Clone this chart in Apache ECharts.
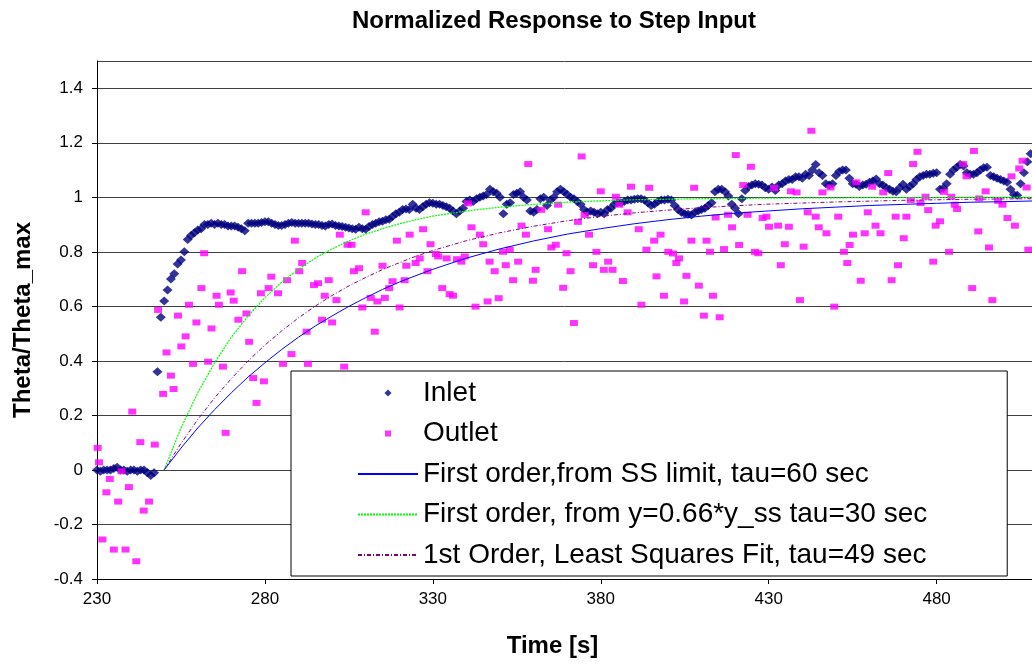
<!DOCTYPE html>
<html lang="en">
<head>
<meta charset="UTF-8">
<title>Normalized Response to Step Input</title>
<script src="https://cdn.jsdelivr.net/npm/echarts@6/dist/echarts.min.js"></script>
<style>
  html, body { margin: 0; padding: 0; background: #fff; }
  #chart { width: 1032px; height: 664px; }
</style>
</head>
<body>
<div id="chart"></div>
<script>
// Inlet: one sample per second, starting at t = 230 s
var inletStart = 230;
var inletVals = [
  0, -0.005, 0, 0, 0, 0.005, 0.01, 0, 0, -0.005,
  0, 0, -0.005, 0, 0, -0.01, -0.02, -0.01, 0.36, 0.56,
  0.62, 0.66, 0.70, 0.72, 0.755, 0.77, 0.80, 0.845, 0.86, 0.87,
  0.88, 0.885, 0.90, 0.90, 0.905, 0.90, 0.905, 0.90, 0.90, 0.895,
  0.895, 0.895, 0.89, 0.885, 0.877, 0.905, 0.905, 0.905, 0.905, 0.908,
  0.91, 0.91, 0.905, 0.90, 0.897, 0.897, 0.90, 0.905, 0.908, 0.905,
  0.905, 0.905, 0.905, 0.905, 0.902, 0.90, 0.90, 0.897, 0.895, 0.90,
  0.902, 0.897, 0.895, 0.893, 0.89, 0.887, 0.885, 0.883, 0.89, 0.885,
  0.883, 0.893, 0.90, 0.905, 0.91, 0.912, 0.918, 0.92, 0.93, 0.94,
  0.945, 0.955, 0.957, 0.955, 0.975, 0.96, 0.955, 0.965, 0.975, 0.98,
  0.978, 0.975, 0.975, 0.97, 0.965, 0.96, 0.95, 0.94, 0.95, 0.96,
  0.985, 0.99, 0.985, 0.995, 1.0, 1.005, 1.01, 1.03, 1.02, 1.015,
  1.0, 0.94, 0.975, 0.98, 1.01, 1.015, 1.02, 1.0, 0.99, 0.95,
  0.945, 0.955, 0.995, 1.0, 0.97, 0.99, 1.0, 1.02, 1.03, 1.02,
  1.01, 1.0, 0.995, 0.985, 0.975, 0.955, 0.945, 0.95, 0.945, 0.94,
  0.945, 0.94, 0.955, 0.96, 0.975, 0.98, 0.98, 0.985, 0.99, 0.99,
  0.993, 0.995, 0.995, 0.99, 0.98, 0.97, 0.975, 0.985, 0.99, 0.99,
  0.993, 0.99, 0.97, 0.955, 0.945, 0.94, 0.938, 0.935, 0.945, 0.95,
  0.955, 0.96, 0.97, 0.98, 1.02, 1.03, 1.03, 1.02, 1.005, 0.975,
  0.96, 0.94, 0.995, 1.025, 1.04, 1.045, 1.05, 1.048, 1.045, 1.035,
  1.03, 1.038, 1.025, 1.045, 1.05, 1.06, 1.065, 1.065, 1.075, 1.075,
  1.07, 1.085, 1.08, 1.10, 1.12, 1.09, 1.08, 1.05, 1.045, 1.05,
  1.08, 1.095, 1.10, 1.10, 1.07, 1.05, 1.048, 1.04, 1.045, 1.048,
  1.055, 1.06, 1.067, 1.05, 1.045, 1.035, 1.03, 1.022, 1.02, 1.035,
  1.048, 1.03, 1.04, 1.05, 1.065, 1.075, 1.08, 1.085, 1.085, 1.088,
  1.09, 1.03, 1.033, 1.05, 1.085, 1.10, 1.11, 1.12, 1.115, 1.09,
  1.085, 1.085, 1.09, 1.10, 1.108, 1.11, 1.08, 1.075, 1.07, 1.065,
  1.06, 1.055, 1.03, 1.01, 1.008, 1.05, 1.09, 1.13, 1.16, 1.18
];

// Outlet: [time, value]
var outletPts = [
  [230.2, 0.081], [230.6, 0.028], [231.6, -0.255], [232.8, -0.082], [233.8, -0.033],
  [235.0, -0.292], [236.3, -0.116], [237.3, -0.005], [238.5, -0.292], [239.5, -0.063],
  [240.5, 0.214], [241.7, -0.335], [242.9, 0.102], [243.9, -0.149], [245.5, -0.116],
  [247.2, 0.093], [248.2, 0.587], [249.7, 0.279], [250.7, 0.431], [252.0, 0.346],
  [252.8, 0.297], [254.1, 0.566], [255.1, 0.453], [256.4, 0.49], [257.4, 0.606],
  [258.6, 0.389], [259.6, 0.541], [261.1, 0.667], [261.9, 0.795], [263.1, 0.397],
  [264.1, 0.519], [265.6, 0.639], [266.3, 0.606], [267.5, 0.379], [268.3, 0.136],
  [269.8, 0.651], [270.7, 0.621], [272.1, 0.551], [273.2, 0.729], [274.5, 0.574],
  [275.3, 0.47], [276.5, 0.337], [277.5, 0.246], [278.8, 0.648], [279.7, 0.325],
  [281.1, 0.667], [281.9, 0.709], [283.9, 0.648], [285.4, 0.389], [286.6, 0.696],
  [287.9, 0.425], [288.9, 0.841], [290.2, 0.729], [291.1, 0.759], [292.4, 0.507],
  [292.8, 0.389], [294.6, 0.678], [295.8, 0.685], [297.0, 0.551], [297.8, 0.639],
  [299.0, 0.696], [300.0, 0.541], [301.3, 0.623], [302.3, 0.863], [303.6, 0.379],
  [304.6, 0.826], [305.8, 0.826], [306.5, 0.729], [308.0, 0.74], [309.0, 0.596],
  [310.0, 0.945], [311.5, 0.631], [312.7, 0.507], [313.5, 0.618], [315.0, 0.749],
  [315.7, 0.631], [317.0, 0.667], [318.0, 0.692], [319.3, 0.841], [320.1, 0.596],
  [321.6, 0.696], [322.1, 0.749], [323.1, 0.863], [324.9, 0.759], [326.1, 0.776],
  [327.1, 0.883], [328.4, 0.729], [329.3, 0.828], [330.9, 0.792], [331.6, 0.783],
  [332.8, 0.667], [334.1, 0.776], [335.0, 0.645], [336.0, 0.639], [337.2, 0.773],
  [338.5, 0.764], [339.5, 0.783], [340.5, 0.978], [341.5, 0.89], [342.7, 0.599],
  [344.0, 0.863], [345.0, 0.828], [346.3, 0.618], [346.9, 0.764], [348.4, 0.729],
  [349.6, 0.63], [350.9, 0.80], [351.7, 0.751], [352.9, 0.808], [353.9, 0.696],
  [355.4, 0.764], [356.4, 0.896], [357.7, 0.863], [358.4, 1.122], [359.8, 0.694],
  [360.6, 0.734], [362.3, 0.954], [364.3, 0.883], [365.3, 0.816], [366.6, 0.826],
  [367.3, 0.973], [368.8, 0.668], [369.8, 0.795], [371.0, 0.729], [372.0, 0.539],
  [373.2, 0.91], [374.3, 1.15], [375.2, 0.935], [376.5, 0.863], [377.7, 0.751],
  [378.7, 0.80], [380.0, 1.022], [380.9, 0.734], [382.2, 0.764], [383.5, 0.734],
  [384.5, 1.002], [385.5, 0.973], [386.6, 0.693], [388.0, 0.945], [389.0, 1.039],
  [391.3, 0.883], [392.1, 0.606], [393.6, 0.808], [394.4, 1.035], [395.9, 0.841],
  [396.6, 0.71], [397.8, 0.863], [398.8, 0.639], [400.1, 0.80], [401.5, 0.794],
  [402.5, 0.759], [403.3, 0.776], [404.8, 0.618], [405.5, 0.712], [407.0, 0.841],
  [407.8, 1.035], [409.2, 0.676], [410.7, 0.566], [411.5, 0.841], [412.5, 0.80],
  [413.4, 0.639], [414.2, 0.926], [415.4, 0.56], [416.7, 0.81], [417.9, 0.936],
  [419.1, 0.89], [420.2, 1.155], [421.2, 0.825], [422.4, 1.045], [423.7, 0.936],
  [424.7, 1.112], [425.9, 0.80], [426.9, 0.795], [428.2, 0.924], [429.3, 0.929],
  [430.1, 0.892], [431.6, 1.034], [432.8, 0.896], [433.6, 0.751], [434.8, 0.828],
  [436.0, 0.892], [436.6, 1.022], [438.3, 1.018], [439.3, 0.623], [440.4, 0.819],
  [441.6, 0.945], [442.7, 1.244], [444.0, 0.929], [444.9, 0.89], [446.0, 1.018],
  [447.2, 0.868], [448.4, 1.036], [449.5, 0.599], [450.7, 0.929], [452.4, 0.80],
  [453.4, 0.759], [454.1, 0.825], [455.1, 0.863], [456.1, 1.055], [457.4, 0.694],
  [458.6, 0.868], [459.5, 0.945], [460.8, 1.039], [461.8, 0.896], [463.3, 0.868],
  [464.1, 1.018], [465.6, 1.089], [466.6, 0.696], [467.8, 0.929], [468.5, 0.751],
  [470.2, 0.85], [471.0, 0.929], [472.3, 0.99], [473.0, 1.122], [474.3, 1.167],
  [475.2, 0.979], [476.7, 1.002], [477.5, 0.953], [479.0, 0.764], [479.7, 0.896],
  [481.0, 0.912], [482.2, 1.02], [483.7, 0.80], [484.4, 1.002], [485.4, 0.973],
  [486.1, 0.957], [487.9, 1.122], [488.9, 1.077], [490.6, 0.667], [491.1, 1.17],
  [492.4, 0.875], [492.7, 0.996], [494.6, 1.022], [495.6, 0.816], [496.6, 0.623],
  [498.3, 0.987], [499.6, 0.973], [501.1, 0.924], [502.3, 1.077], [503.3, 0.896],
  [504.6, 1.106], [505.6, 1.134], [506.8, 1.036], [507.3, 0.808]
];

// fitted first-order curves, read at these times
var fitTimes = [250, 255, 260, 265, 270, 275, 280, 285, 290, 295, 300, 305, 310, 315, 320, 325, 330,
                340, 350, 360, 370, 380, 390, 400, 410, 420, 430, 440, 450, 460, 470, 480, 490, 500, 510];
var fitSS  = [0, 0.080, 0.154, 0.221, 0.283, 0.341, 0.393, 0.442, 0.487, 0.528, 0.565, 0.600, 0.632, 0.662, 0.689, 0.713, 0.736,
              0.777, 0.811, 0.840, 0.865, 0.885, 0.903, 0.918, 0.931, 0.942, 0.950, 0.958, 0.964, 0.970, 0.974, 0.978, 0.982, 0.984, 0.987];
var fit066 = [0, 0.154, 0.283, 0.393, 0.487, 0.565, 0.632, 0.689, 0.736, 0.777, 0.811, 0.840, 0.865, 0.885, 0.903, 0.918, 0.931,
              0.950, 0.964, 0.974, 0.982, 0.987, 0.991, 0.993, 0.995, 0.996, 0.997, 0.998, 0.998, 0.999, 0.999, 0.999, 1.0, 1.0, 1.0];
var fitLSQ = [0, 0.097, 0.185, 0.264, 0.335, 0.400, 0.458, 0.510, 0.558, 0.601, 0.640, 0.675, 0.706, 0.735, 0.760, 0.784, 0.805,
              0.841, 0.870, 0.894, 0.914, 0.930, 0.943, 0.953, 0.962, 0.969, 0.975, 0.979, 0.983, 0.986, 0.989, 0.991, 0.993, 0.994, 0.995];

var names = ['Inlet', 'Outlet', 'First order,from SS limit, tau=60 sec',
             'First order, from y=0.66*y_ss tau=30 sec', '1st Order, Least Squares Fit, tau=49 sec'];

var FONT = '"Liberation Sans", Arial, sans-serif';

function pairs(xs, ys) {
  return xs.map(function (x, i) { return [x, ys[i]]; });
}

var inletData = inletVals.map(function (v, i) { return [inletStart + i, v]; });

var chart = echarts.init(document.getElementById('chart'));

// legend entries for the fit lines: line only, hide the marker in the middle
var lineOnly = { opacity: 0 };

chart.setOption({
  animation: false,
  backgroundColor: '#fff',
  textStyle: { fontFamily: FONT },
  title: {
    text: 'Normalized Response to Step Input',
    left: 554,
    top: 9,
    padding: 0,
    textAlign: 'center',
    textStyle: { fontSize: 24, fontWeight: 'bold', color: '#000', fontFamily: FONT }
  },
  grid: { left: 97, top: 61, right: 0, bottom: 85 },
  legend: {
    orient: 'vertical',
    left: 291,
    top: 371,
    padding: [8, 80, 7, 66],
    itemGap: 12.5,
    itemWidth: 60,
    itemHeight: 14,
    backgroundColor: '#fff',
    borderColor: '#000',
    borderWidth: 1,
    textStyle: { fontSize: 28, color: '#000', fontFamily: FONT },
    data: [
      { name: names[0], icon: 'path://M0,0M60,14M30,3.5L33.5,7L30,10.5L26.5,7Z' },
      { name: names[1], icon: 'path://M0,0M60,14M27,4H33V10H27Z' },
      { name: names[2], itemStyle: lineOnly },
      { name: names[3], itemStyle: lineOnly },
      { name: names[4], itemStyle: lineOnly }
    ]
  },
  xAxis: {
    type: 'value',
    min: 230,
    max: 508.4,
    interval: 50,
    name: 'Time [s]',
    nameLocation: 'middle',
    nameGap: 55,
    nameTextStyle: { fontSize: 24, fontWeight: 'bold', color: '#000', fontFamily: FONT, padding: [0, 24, 0, 0] },
    axisLine: { onZero: false, lineStyle: { color: '#000', width: 1 } },
    axisTick: { length: 5, lineStyle: { color: '#000' } },
    axisLabel: { fontSize: 17, color: '#000', margin: 12, showMaxLabel: false, fontFamily: FONT },
    splitLine: { show: false }
  },
  yAxis: {
    type: 'value',
    min: -0.4,
    max: 1.5,
    interval: 0.2,
    name: 'Theta/Theta_max',
    nameLocation: 'middle',
    nameGap: 62,
    nameTextStyle: { fontSize: 24, fontWeight: 'bold', color: '#000', fontFamily: FONT },
    axisLine: { show: true, onZero: false, lineStyle: { color: '#000', width: 1 } },
    axisTick: { show: true, length: 5, lineStyle: { color: '#000' } },
    axisLabel: { fontSize: 17, color: '#000', margin: 14, showMaxLabel: false, fontFamily: FONT },
    splitLine: { show: true, lineStyle: { color: '#404040', width: 1 } }
  },
  series: [
    {
      name: names[0],
      type: 'scatter',
      symbol: 'diamond',
      symbolSize: [10, 9],
      itemStyle: { color: '#000080' },
      data: inletData
    },
    {
      name: names[1],
      type: 'scatter',
      symbol: 'rect',
      symbolSize: [8, 6],
      itemStyle: { color: '#ff00ff' },
      data: outletPts
    },
    {
      name: names[2],
      type: 'line',
      symbol: 'none',
      lineStyle: { color: '#0000ff', width: 1 },
      itemStyle: { color: '#0000ff' },
      data: pairs(fitTimes, fitSS)
    },
    {
      name: names[3],
      type: 'line',
      symbol: 'none',
      lineStyle: { color: '#00ff00', width: 1.2, type: [2, 1] },
      itemStyle: { color: '#00ff00' },
      data: pairs(fitTimes, fit066)
    },
    {
      name: names[4],
      type: 'line',
      symbol: 'none',
      lineStyle: { color: '#800080', width: 1, type: [4, 2, 1, 2] },
      itemStyle: { color: '#800080' },
      data: pairs(fitTimes, fitLSQ)
    }
  ]
});
</script>
</body>
</html>
